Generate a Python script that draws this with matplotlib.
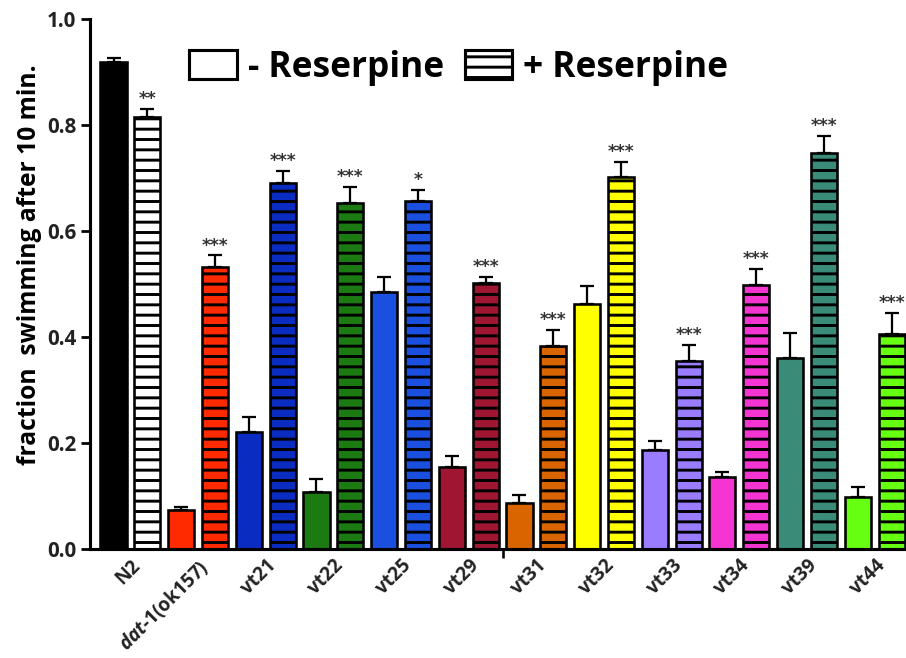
import numpy as np
import matplotlib
matplotlib.use("Agg")
import matplotlib.pyplot as plt
from matplotlib.patches import Patch

# ── data ─────────────────────────────────────────────────────────────────────
strains = ["N2", r"$\it{dat}$-1(ok157)", "vt21", "vt22", "vt25", "vt29",
           "vt31", "vt32", "vt33", "vt34", "vt39", "vt44"]
minus_mean = [0.918, 0.074, 0.221, 0.107, 0.485, 0.155, 0.087, 0.463, 0.187, 0.136, 0.360, 0.098]
minus_err = [0.009, 0.005, 0.029, 0.025, 0.029, 0.020, 0.015, 0.033, 0.017, 0.009, 0.048, 0.019]
plus_mean = [0.816, 0.533, 0.690, 0.652, 0.657, 0.502, 0.383, 0.702, 0.355, 0.498, 0.747, 0.406]
plus_err = [0.015, 0.021, 0.023, 0.031, 0.020, 0.011, 0.030, 0.028, 0.030, 0.030, 0.032, 0.039]
stars = ["**", "***", "***", "***", "*", "***", "***", "***", "***", "***", "***", "***"]
colors = ["#000000", "#ff2a00", "#0a2cc0", "#1c7a12", "#1a4fe0", "#9e1632",
          "#d86500", "#ffff00", "#9a7cff", "#f535d2", "#3a8b78", "#66ff12"]
plus_colors = ["#ffffff"] + colors[1:]

DPI = 124
plt.rcParams["hatch.linewidth"] = 1.7
plt.rcParams["font.family"] = ["Open Sans", "DejaVu Sans"]
plt.rcParams["font.weight"] = "bold"
plt.rcParams["mathtext.fontset"] = "custom"
plt.rcParams["mathtext.it"] = "Open Sans:italic:bold"
plt.rcParams["mathtext.rm"] = "Open Sans:bold"

fig = plt.figure(figsize=(906 / DPI, 658 / DPI), dpi=DPI)
ax = fig.add_axes([90 / 906, 109 / 658, 816 / 906, 530 / 658])

n = len(strains)
x_minus = np.arange(n) * 2
x_plus = x_minus + 1
w = 0.77

ax.bar(x_minus, minus_mean, w, color=colors, edgecolor="black", linewidth=1.5, zorder=2)
ax.bar(x_plus, plus_mean, w, color=plus_colors, edgecolor="black", linewidth=1.5,
       hatch="--", zorder=2)

ekw = dict(fmt="none", ecolor="black", elinewidth=1.3, capsize=4, capthick=1.3, zorder=1)
ax.errorbar(x_minus, minus_mean, yerr=[np.zeros(n), minus_err], **ekw)
ax.errorbar(x_plus, plus_mean, yerr=[np.zeros(n), plus_err], **ekw)

for xi, m, e, s in zip(x_plus, plus_mean, plus_err, stars):
    ax.annotate(s, (xi, m + e), xytext=(0, 0.5), textcoords="offset points",
                ha="center", va="bottom", fontsize=10, color="#333333",
                family="DejaVu Sans", fontweight="bold")

ax.set_xlim(-0.695, 23.425)
ax.set_ylim(0, 1.0)
ax.set_yticks(np.arange(0, 1.01, 0.2))
ax.set_yticklabels([f"{v:.1f}" for v in np.arange(0, 1.01, 0.2)], fontsize=12,
                   color="#222222", fontweight="bold")
ax.set_xticks(x_minus + 0.5)
ax.set_xticklabels(strains, rotation=45, ha="right", rotation_mode="anchor",
                   fontsize=11, color="#222222", fontweight="bold")
ax.tick_params(axis="x", length=0, pad=4)
ax.set_xticks([11.5], minor=True)
ax.tick_params(axis="x", which="minor", length=5, width=1.5)
ax.tick_params(axis="y", length=5, width=1.6, pad=3)

for side in ["top", "right"]:
    ax.spines[side].set_visible(False)
for side in ["left", "bottom"]:
    ax.spines[side].set_linewidth(1.8)

ax.set_ylabel("fraction  swimming after 10 min.", fontsize=14.3, fontweight="bold")
ax.yaxis.set_label_coords(-0.059, 0.536)

handles = [Patch(facecolor="white", edgecolor="black", linewidth=1.8),
           Patch(facecolor="white", edgecolor="black", linewidth=1.8, hatch="--")]
ax.legend(handles, ["- Reserpine", "+ Reserpine"], ncol=2, frameon=False,
          loc="center left", bbox_to_anchor=(0.100, 0.908), borderpad=0,
          handlelength=1.35, handleheight=0.9, handletextpad=0.3, columnspacing=0.6,
          prop={"weight": "bold", "size": 20.5})

fig.savefig("out.png", dpi=DPI)
